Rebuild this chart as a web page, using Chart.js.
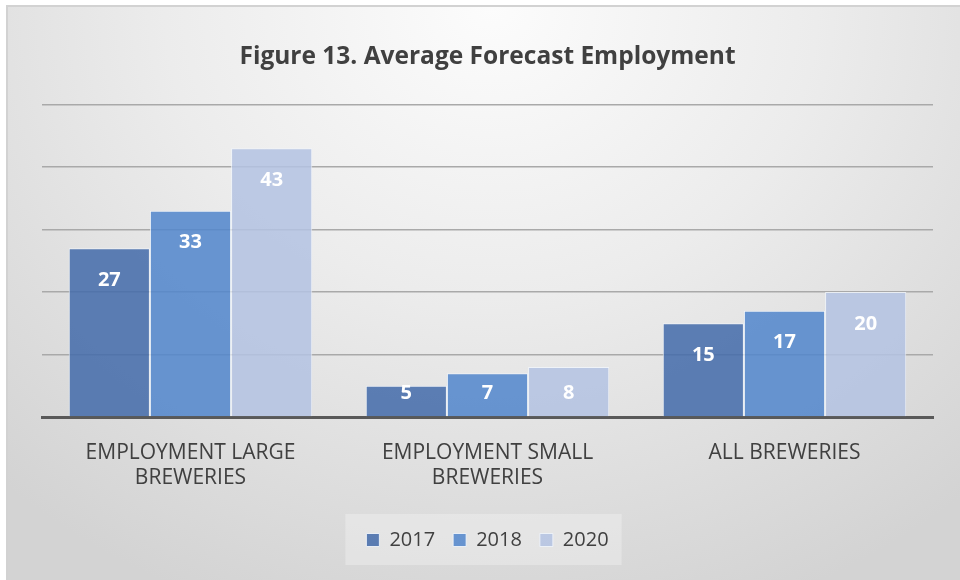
<!DOCTYPE html>
<html>
<head>
<meta charset="utf-8">
<script src="https://cdn.jsdelivr.net/npm/chart.js@4.4.1/dist/chart.umd.min.js"></script>
<style>
  html, body { margin: 0; padding: 0; background: #fff; }
  body { width: 960px; height: 580px; position: relative; overflow: hidden; }
  #frame {
    position: absolute; left: 6px; top: 5px; width: 970px; height: 590px;
    border: 2px solid #d2d2d2; box-sizing: border-box;
    background: radial-gradient(ellipse 75% 110% at 50% 0%, #fcfcfc 0%, #ececec 45%, #dcdcdc 80%, #d3d3d3 100%);
  }
  #chart { position: absolute; left: 0; top: 0; }
</style>
</head>
<body>
<div id="frame"></div>
<canvas id="chart" width="960" height="580"></canvas>
<script>
// categories and series
const categories = [['EMPLOYMENT LARGE', 'BREWERIES'], ['EMPLOYMENT SMALL', 'BREWERIES'], 'ALL BREWERIES'];
const years = ['2017', '2018', '2020'];
const emp2017 = [27, 5, 15];
const emp2018 = [33, 7, 17];
const emp2020 = [43, 8, 20];
const yTicks = [0, 10, 20, 30, 40, 50];

const FONT = "'Open Sans', 'DejaVu Sans', sans-serif";
const fills = ['rgba(67,107,170,0.86)', 'rgba(82,134,204,0.86)', 'rgba(179,194,226,0.86)'];

// white value labels sitting just inside the top of each bar
const valueLabels = {
  id: 'valueLabels',
  afterDatasetsDraw(chart) {
    const ctx = chart.ctx;
    ctx.save();
    ctx.fillStyle = '#ffffff';
    ctx.font = 'bold 20px ' + FONT;
    ctx.textAlign = 'center';
    ctx.textBaseline = 'middle';
    chart.data.datasets.forEach((ds, i) => {
      chart.getDatasetMeta(i).data.forEach((bar, j) => {
        const y = Math.min(bar.y + 32, bar.base - 23);
        ctx.fillText(String(ds.data[j]), bar.x, y);
      });
    });
    ctx.restore();
  }
};

// faint panel behind the legend
const legendPanel = {
  id: 'legendPanel',
  beforeDraw(chart) {
    const lg = chart.legend;
    if (!lg || !lg.legendHitBoxes.length) return;
    const first = lg.legendHitBoxes[0];
    const last = lg.legendHitBoxes[lg.legendHitBoxes.length - 1];
    const cy = first.top + first.height / 2;
    const ctx = chart.ctx;
    ctx.save();
    ctx.fillStyle = 'rgba(255,255,255,0.28)';
    ctx.fillRect(first.left - 21, cy - 26, last.left + last.width - first.left + 34, 51);
    ctx.restore();
  }
};

new Chart(document.getElementById('chart'), {
  type: 'bar',
  data: {
    labels: categories,
    datasets: [
      { label: years[0], data: emp2017, backgroundColor: fills[0] },
      { label: years[1], data: emp2018, backgroundColor: fills[1] },
      { label: years[2], data: emp2020, backgroundColor: fills[2] }
    ].map(d => Object.assign(d, {
      borderColor: 'rgba(240,244,250,0.85)', borderWidth: 1,
      categoryPercentage: 0.82, barPercentage: 1
    }))
  },
  options: {
    responsive: false,
    animation: false,
    layout: { padding: { left: 42, right: 27, top: 0, bottom: 20 } },
    plugins: {
      title: {
        display: true,
        text: 'Figure 13. Average Forecast Employment',
        color: '#404040',
        font: { family: FONT, size: 24.5, weight: 'bold' },
        padding: { top: 42, bottom: 33 }
      },
      legend: {
        position: 'bottom',
        labels: {
          color: '#404040',
          font: { family: FONT, size: 20 },
          boxWidth: 13, boxHeight: 13, padding: 18,
          generateLabels(chart) {
            return chart.data.datasets.map((d, i) => ({
              text: d.label, fillStyle: d.backgroundColor,
              strokeStyle: 'rgba(240,244,250,0.9)', lineWidth: 1,
              fontColor: '#404040', datasetIndex: i
            }));
          }
        }
      },
      tooltip: { enabled: false }
    },
    scales: {
      x: {
        grid: { display: false },
        border: { display: true, color: '#595959', width: 3 },
        ticks: {
          color: '#404040', padding: 15, maxRotation: 0,
          font: { family: FONT, size: 21, lineHeight: 1.2 }
        },
        afterFit(scale) { scale.height = 95; }
      },
      y: {
        min: 0, max: 50,
        afterBuildTicks(scale) { scale.ticks = yTicks.map(v => ({ value: v })); },
        ticks: { display: false },
        grid: { color: '#a9a9a9', lineWidth: 1.6, drawTicks: false },
        border: { display: false }
      }
    }
  },
  plugins: [valueLabels, legendPanel]
});
</script>
</body>
</html>
